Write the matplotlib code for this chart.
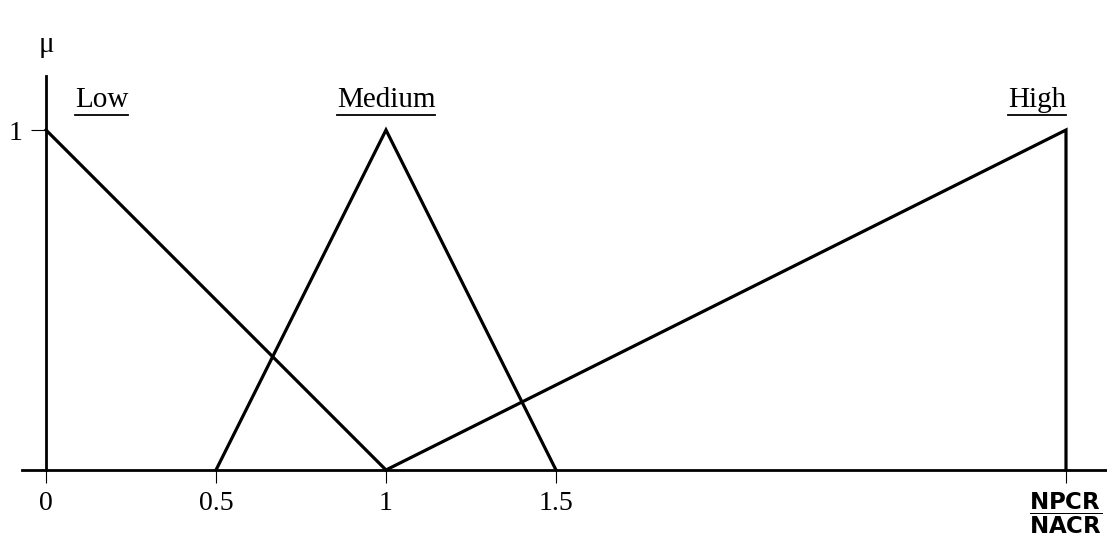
import numpy as np
import matplotlib.pyplot as plt
from matplotlib.lines import Line2D

# Membership functions (x = NPCR/NACR ratio, mu)
low_x = [0, 1]
low_y = [1, 0]
med_x = [0.5, 1, 1.5]
med_y = [0, 1, 0]
high_x = [1, 3, 3]
high_y = [0, 1, 0]

labels = ['Low', 'Medium', 'High']
label_x = [0.085, 1.0, 3.0]
label_ha = ['left', 'center', 'right']

xticks = [0, 0.5, 1, 1.5, 3]
xtick_labels = ['0', '0.5', '1', '1.5', r'$\mathbf{\dfrac{NPCR}{NACR}}$']

plt.rcParams['font.family'] = ['Liberation Serif', 'DejaVu Serif']
plt.rcParams['mathtext.fontset'] = 'dejavusans'

fig = plt.figure(figsize=(11.07, 5.4), dpi=100)
ax = fig.add_axes([0, 0, 1, 1])
ax.set_xlim(-46 / 340, (1107 - 46) / 340)
ax.set_ylim(-70 / 340, 470 / 340)

lw = 2.3
ax.plot(low_x, low_y, color='black', lw=lw, solid_joinstyle='miter')
ax.plot(med_x, med_y, color='black', lw=lw, solid_joinstyle='miter')
ax.plot(high_x, high_y, color='black', lw=lw, solid_joinstyle='miter')

# axes
for s in ['top', 'right']:
    ax.spines[s].set_visible(False)
ax.spines['left'].set_position(('data', 0))
ax.spines['bottom'].set_position(('data', 0))
ax.spines['left'].set_bounds(0, 1.16)
ax.spines['bottom'].set_bounds(-0.07, 3.2)
ax.spines['left'].set_linewidth(2.0)
ax.spines['bottom'].set_linewidth(2.0)

ax.set_xticks(xticks)
ax.set_xticklabels(xtick_labels)
ax.set_yticks([1])
ax.set_yticklabels(['1'])
ax.tick_params(axis='x', direction='out', length=9, width=0.8, pad=6, labelsize=20)
ax.tick_params(axis='y', direction='out', length=11, width=0.8, pad=6, labelsize=20)
for t in ax.get_xticklabels()[-1:]:
    t.set_fontsize(16.5)

ax.text(0.0, 1.25, '\u03bc', fontsize=21, ha='center', va='center')

txts = []
for lab, lx, ha in zip(labels, label_x, label_ha):
    txts.append(ax.text(lx, 1.068, lab, fontsize=21, ha=ha, va='baseline'))

# underline the labels
fig.canvas.draw()
r = fig.canvas.get_renderer()
for t in txts:
    bb = t.get_window_extent(r)
    yy = bb.y0 - 2
    fig.add_artist(Line2D([bb.x0, bb.x1], [yy, yy], transform=None,
                          color='black', lw=1.3))

fig.savefig('out.png', dpi=100)
